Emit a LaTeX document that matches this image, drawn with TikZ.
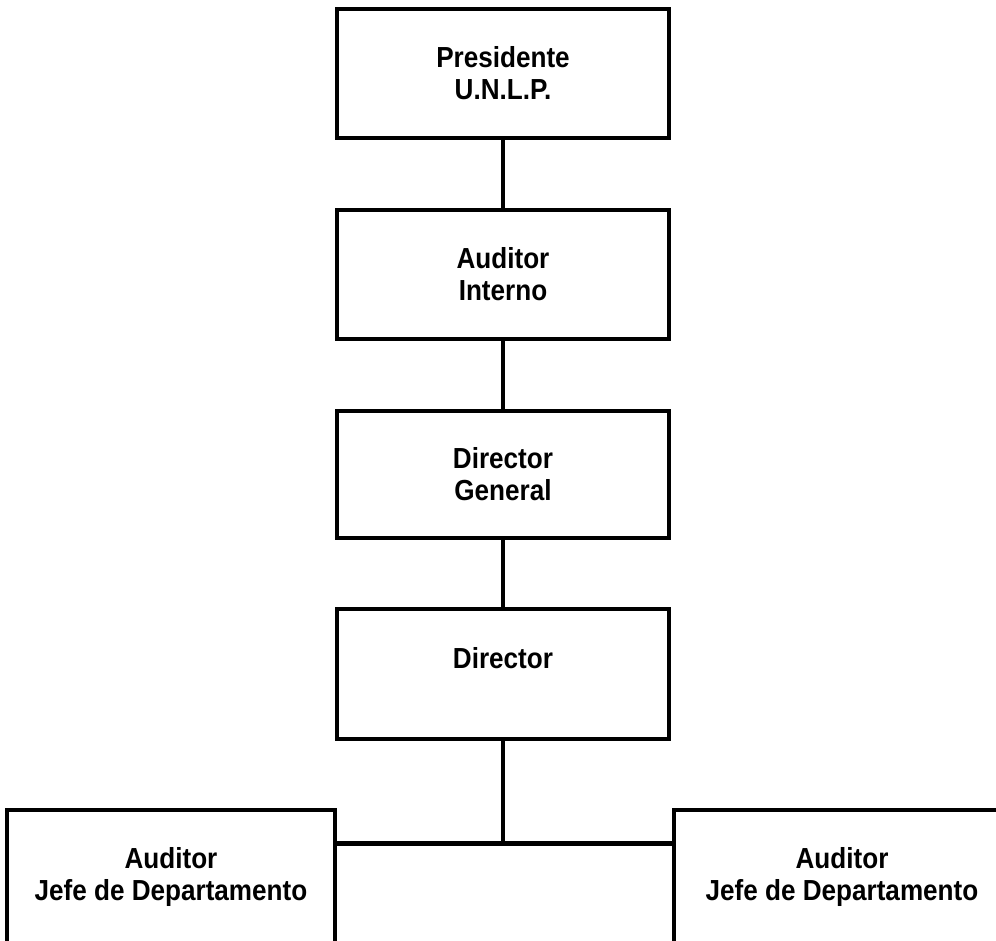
\documentclass[tikz,border=0pt]{standalone}
\usepackage{fontspec}
\setmainfont{Liberation Sans}
\newfontfamily\lab[FakeStretch=0.9]{Liberation Sans}
\begin{document}
\begin{tikzpicture}[x=1pt,y=-1pt,
  box/.style={draw=black,line width=4.5pt,rectangle,inner sep=0pt,outer sep=0pt,
    minimum width=332pt,minimum height=129pt,align=center,
    font=\lab\fontsize{29}{32}\selectfont\bfseries},
  lowbox/.style={box,minimum height=134pt},
  conn/.style={line width=4.5pt}]
\useasboundingbox (0,0) rectangle (996,940);
\clip (0,0) rectangle (996,940);
\fill[white] (0,0) rectangle (996,940);
\node[box] (pres) at (503,73.5) {Presidente\\U.N.L.P.};
\node[box] (ai) at (503,274.5) {Auditor\\Interno};
\node[box,minimum height=127pt] (dg) at (503,474.5) {Director\\General};
\node[box,minimum height=130pt] (dir) at (503,674) {Director\\\mbox{}};
\node[lowbox,minimum width=328pt] (lb) at (171,877) {Auditor\\Jefe de Departamento};
\node[lowbox,minimum width=336pt] (rb) at (842,877) {Auditor\\Jefe de Departamento};
\coordinate (j) at (503,843);
\draw[conn] (pres.south) -- (ai.north);
\draw[conn] (ai.south) -- (dg.north);
\draw[conn] (dg.south) -- (dir.north);
\draw[conn] (dir.south) -- (j);
\draw[line width=5pt] (lb.east |- j) -- (rb.west |- j);
\end{tikzpicture}
\end{document}
